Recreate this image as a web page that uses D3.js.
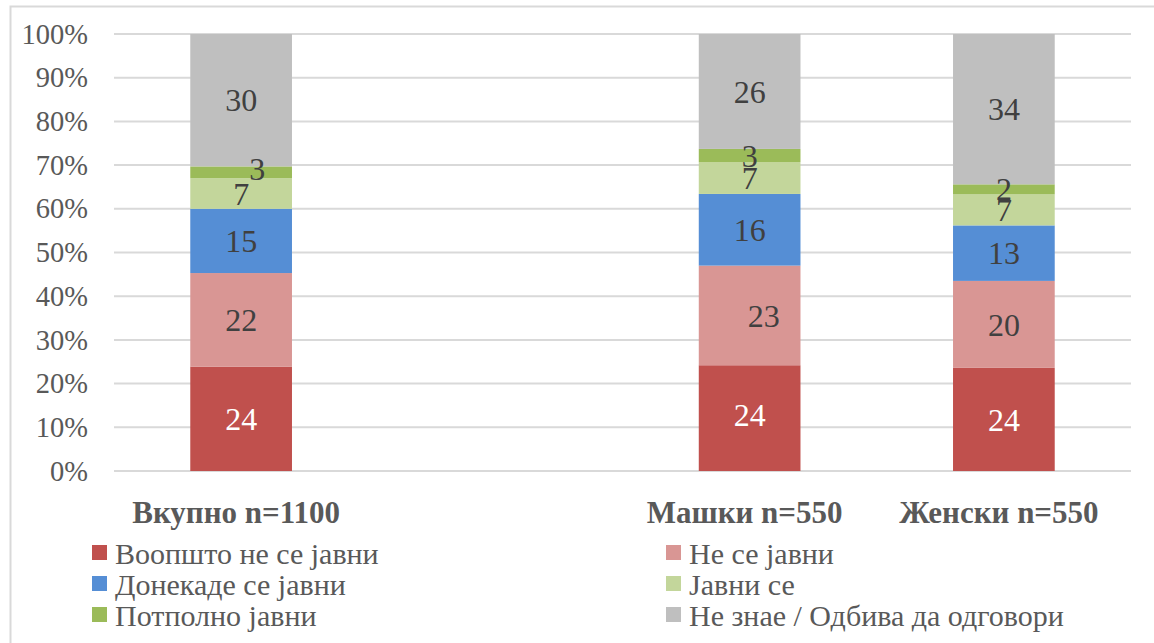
<!DOCTYPE html>
<html>
<head>
<meta charset="utf-8">
<script src="https://cdn.jsdelivr.net/npm/d3@7"></script>
<style>
  body { margin: 0; background: #fff; font-family: "Liberation Serif", serif; }
</style>
</head>
<body>
<div id="chart"></div>
<script>
// categories (one empty slot between total and the gender split)
const categories = ["Вкупно n=1100", "", "Машки n=550", "Женски n=550"];
const seriesNames = ["Воопшто не се јавни", "Не се јавни", "Донекаде се јавни", "Јавни се", "Потполно јавни", "Не знае / Одбива да одговори"];
const seriesColors = ["#C0504D", "#D99694", "#558ED5", "#C3D69B", "#9BBB59", "#BFBFBF"];

// percent values per category
const notAtAll = [23.9, null, 24.2, 23.6];
const notReport = [21.4, null, 22.8, 19.9];
const somewhat = [14.7, null, 16.4, 12.7];
const report = [7.0, null, 7.3, 7.1];
const fully = [2.7, null, 3.0, 2.3];
const dontKnow = [30.3, null, 26.3, 34.4];

// labels shown on the bars
const labelValues = [
    [24, 22, 15, 7, 3, 30],
    null,
    [24, 23, 16, 7, 3, 26],
    [24, 20, 13, 7, 2, 34]
];
const yTicks = [0, 10, 20, 30, 40, 50, 60, 70, 80, 90, 100];

const FONT = "Liberation Serif";
const W = 1154, H = 643;
const margin = { top: 34, left: 114, right: 23, bottom: 172 };
const innerW = W - margin.left - margin.right;
const innerH = H - margin.top - margin.bottom;

const svg = d3.select('#chart').append('svg')
    .attr('width', W)
    .attr('height', H)
    .attr('font-family', FONT)
    .style('display', 'block');

// chart frame
svg.append('rect')
    .attr('x', 10.5).attr('y', 6.5)
    .attr('width', 1160).attr('height', 650)
    .attr('fill', 'none')
    .attr('stroke', '#D9D9D9')
    .attr('stroke-width', 2);

const g = svg.append('g').attr('transform', `translate(${margin.left},${margin.top})`);

const x = d3.scaleBand()
    .domain(d3.range(categories.length))
    .range([0, innerW])
    .paddingInner(0.6)
    .paddingOuter(0.3);

const y = d3.scaleLinear().domain([0, 100]).range([innerH, 0]);

// grid lines
g.append('g')
    .selectAll('line')
    .data(yTicks)
    .join('line')
    .attr('x1', 0).attr('x2', innerW)
    .attr('y1', d => y(d)).attr('y2', d => y(d))
    .attr('stroke', '#D9D9D9')
    .attr('stroke-width', 2);

// y axis labels
const yAxis = g.append('g')
    .call(d3.axisLeft(y).tickValues(yTicks).tickFormat(d => d + '%').tickSize(0).tickPadding(26))
    .attr('font-family', FONT);
yAxis.select('.domain').remove();
yAxis.selectAll('text')
    .attr('font-size', 28.5)
    .attr('fill', '#595959');

// stack the series
const rows = categories.map((c, i) => ({
    i,
    s0: notAtAll[i], s1: notReport[i], s2: somewhat[i],
    s3: report[i], s4: fully[i], s5: dontKnow[i]
})).filter(d => d.s0 != null);
const keys = ['s0', 's1', 's2', 's3', 's4', 's5'];
const stacked = d3.stack().keys(keys)(rows);

g.append('g')
    .selectAll('g')
    .data(stacked)
    .join('g')
    .attr('fill', (d, k) => seriesColors[k])
    .selectAll('rect')
    .data(d => d)
    .join('rect')
    .attr('x', d => x(d.data.i))
    .attr('y', d => y(d[1]))
    .attr('width', x.bandwidth())
    .attr('height', d => y(d[0]) - y(d[1]));

// small manual nudges of data labels, like the original
const nudge = { '0-4': [16, -4], '2-1': [14, 0], '2-0': [0, -3], '3-4': [0, -1] };

// labels go on top of every bar segment
const labelLayer = g.append('g');
stacked.forEach((layer, k) => {
    labelLayer.append('g')
        .selectAll('text')
        .data(layer)
        .join('text')
        .attr('x', d => x(d.data.i) + x.bandwidth() / 2 + ((nudge[d.data.i + '-' + k] || [0, 0])[0]))
        .attr('y', d => y((d[0] + d[1]) / 2) + ((nudge[d.data.i + '-' + k] || [0, 0])[1]))
        .attr('dy', '0.35em')
        .attr('text-anchor', 'middle')
        .attr('font-size', 32)
        .attr('fill', k === 0 ? '#FFFFFF' : '#404040')
        .text(d => labelValues[d.data.i][k]);
});

// category labels
g.append('g')
    .selectAll('text')
    .data(categories.map((c, i) => ({ c, i })).filter(d => d.c))
    .join('text')
    .attr('x', d => x(d.i) + x.bandwidth() / 2 - 5)
    .attr('y', innerH + 41)
    .attr('dy', '0.35em')
    .attr('text-anchor', 'middle')
    .attr('font-size', 31)
    .attr('font-weight', 'bold')
    .attr('fill', '#595959')
    .text(d => d.c);

// legend, two columns
const legend = svg.append('g');
const items = legend.selectAll('g')
    .data(seriesNames)
    .join('g')
    .attr('transform', (d, k) => `translate(${k % 2 === 0 ? 92 : 666},${553 + Math.floor(k / 2) * 31})`);

items.append('rect')
    .attr('x', 0).attr('y', -8)
    .attr('width', 15).attr('height', 15)
    .attr('fill', (d, k) => seriesColors[k]);

items.append('text')
    .attr('x', 23)
    .attr('y', 0)
    .attr('dy', '0.35em')
    .attr('font-size', 30)
    .attr('fill', '#595959')
    .text(d => d);

// make sure every text uses the serif face
svg.selectAll('text').style('font-family', FONT);
</script>
</body>
</html>
